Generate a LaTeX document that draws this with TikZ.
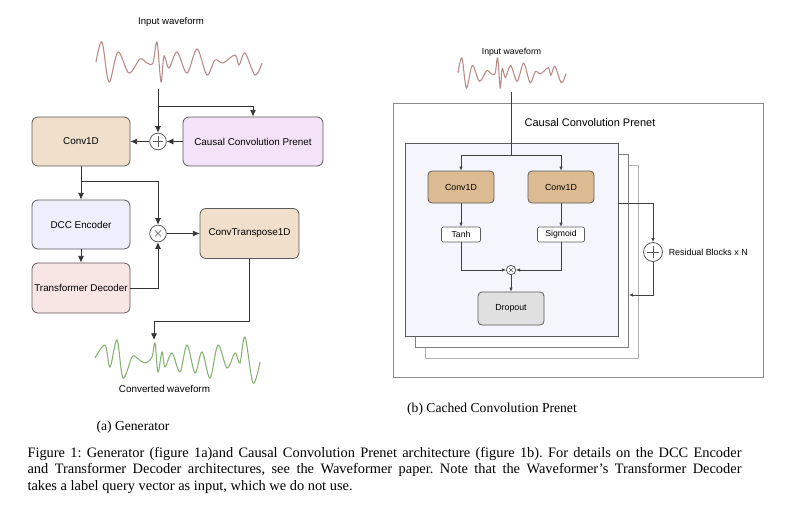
\documentclass[tikz,border=0pt]{standalone}
\usepackage{fontspec}
\setmainfont{Liberation Serif}
\setsansfont{Liberation Sans}
\usetikzlibrary{arrows.meta,positioning}

\definecolor{boxline}{HTML}{5A5A5A}
\definecolor{convtan}{HTML}{EFDFCB}
\definecolor{convdark}{HTML}{DDBB92}
\definecolor{causalpink}{HTML}{F4E3F8}
\definecolor{dccblue}{HTML}{EEEEFC}
\definecolor{transpink}{HTML}{F8E6E4}
\definecolor{dropgrey}{HTML}{E0E0E0}
\definecolor{stackfill}{HTML}{F5F5FD}
\definecolor{wavered}{HTML}{B88A86}
\definecolor{wavegreen}{HTML}{86B272}
\definecolor{outergrey}{HTML}{8C8C8C}

\tikzset{every picture/.style={line width=0.75pt}}
\tikzset{
  genbox/.style={draw=boxline, line width=0.6pt, rounded corners=4.5pt, minimum width=73.5pt, minimum height=36.75pt, inner sep=1pt, font=\sffamily\fontsize{7.4}{8.9}\selectfont},
  cbox/.style={draw=boxline, line width=0.6pt, rounded corners=3pt, fill=convdark, minimum width=49.5pt, minimum height=24pt, inner sep=1pt, font=\sffamily\fontsize{6.6}{8}\selectfont},
  tagbox/.style={draw=boxline, line width=0.5pt, rounded corners=1.5pt, fill=white, minimum height=11.25pt, inner sep=1pt, font=\sffamily\fontsize{6.5}{7.8}\selectfont},
  stackbox/.style={draw=#1, line width=0.6pt, minimum width=159.75pt, minimum height=144.75pt, inner sep=0pt},
  opcirc/.style={circle, draw=boxline, line width=0.6pt, fill=white, inner sep=0pt},
  plusmark/.style={path picture={\draw[line width=0.5pt, shift={(path picture bounding box.center)}] (-#1,0) -- (#1,0) (0,-#1) -- (0,#1);}},
  crossmark/.style={path picture={\draw[line width=0.5pt, shift={(path picture bounding box.center)}] (-#1,-#1) -- (#1,#1) (-#1,#1) -- (#1,-#1);}},
  arr/.style={draw=black!80, line width=0.6pt, -{Latex[length=5pt,width=4.5pt]}},
  arrs/.style={draw=black!75, line width=0.5pt, -{Latex[length=3pt,width=2.6pt]}},
  lbl/.style={font=\sffamily\fontsize{#1}{#1}\selectfont, inner sep=1pt},
  subcap/.style={font=\fontsize{10.2}{12}\selectfont, inner sep=0pt},
  captxt/.style={font=\fontsize{10.8}{12.4}\selectfont\frenchspacing, inner sep=0pt, anchor=base west},
}

\newcommand{\inwave}{%
  \draw[wavered, line width=0.8pt] plot[smooth, tension=0.55] coordinates {(96,62) (102,42) (109,82) (118,52) (129,73) (140,59) (147,63) (153,63) (157,42) (161,82) (164,56) (169,68) (177,52) (187,73) (197,49) (207,75) (215,60) (223,63) (235,55) (239,65) (245,53) (255,75) (262,63)};}

\begin{document}
\begin{tikzpicture}[x=0.75pt,y=0.75pt,yscale=-1,xscale=1]
	\useasboundingbox (0,0) rectangle (800,510);

	%%% (a) Generator
	%Shape: Wave [input]
	\inwave
	%Shape: Wave [converted]
	\draw[wavegreen, line width=0.8pt] plot[smooth, tension=0.55] coordinates {(95,358) (105,345) (110,367) (117,340) (123,378) (132,357) (137,358) (145,363) (152,357) (155,343) (158,372) (162,352) (165,367) (172,353) (180,372) (187,345) (195,373) (202,352) (210,378) (218,345) (227,368) (235,353) (240,363) (245,337) (253,383) (260,362)};

	% Text Node
	\node[lbl=7.2] (inlbl) at (171,22) {Input waveform};
	% Text Node
	\node[lbl=7.4] (outlbl) at (164.5,389) {Converted waveform};

	%Blocks
	\node[genbox, fill=convtan] (conv) at (81,141.5) {Conv1D};
	\node[genbox, fill=causalpink, minimum width=105pt] (causal) at (253,141.5) {Causal Convolution Prenet};
	\node[opcirc, minimum size=12.5pt, plusmark=4pt] (sumin) at (158,141.5) {};
	\node[genbox, fill=dccblue] (dcc) at (81,224.5) {DCC Encoder};
	\node[genbox, fill=transpink, minimum height=37.5pt] (trans) at (81,288) {Transformer Decoder};
	\node[opcirc, minimum size=12.5pt, crossmark=2.3pt] (mulgen) at (158,233.5) {};
	\node[genbox, fill=convtan, minimum width=74.25pt, minimum height=37.5pt] (convt) at (249.5,233.5) {ConvTranspose1D};

	\coordinate (inw) at (158,89);
	\coordinate (inbr) at (158,106);
	\coordinate (convbr) at (81,181);
	\coordinate (outbend) at (249.5,321);
	\coordinate (outw) at (154,340);

	%Connectors
	\draw[arr] (inw) -- (sumin.north);
	\draw[arr] (inbr) -| (causal.north);
	\draw[arr] (causal.west) -- (sumin.east);
	\draw[arr] (sumin.west) -- (conv.east);
	\draw[arr] (conv.south) -- (dcc.north);
	\draw[arr] (convbr) -| (mulgen.north);
	\draw[arr] (dcc.south) -- (trans.north);
	\draw[arr] (trans.east) -| (mulgen.south);
	\draw[arr] (mulgen.east) -- (convt.west);
	\draw[arr] (convt.south) -- (outbend) -| (outw);

	% Text Node
	\node[subcap] (capa) at (133,427) {(a) Generator};

	%%% (b) Cached Convolution Prenet
	%Shape: Rectangle [outer]
	\draw[outergrey, line width=0.6pt] (393,103) rectangle (763,377);
	%Shape: Wave [input]
	\begin{scope}[shift={(458,58)}, xscale=0.65, yscale=0.75, shift={(-96,-42)}]
		\inwave
	\end{scope}
	% Text Node
	\node[lbl=6.5] (rinlbl) at (511.5,52) {Input waveform};
	% Text Node
	\node[lbl=8.25] (prelbl) at (590,123) {Causal Convolution Prenet};

	%Stacked residual blocks
	\node[stackbox=black!30, fill=white] (blkC) at (532,261.5) {};
	\node[stackbox=black!50, fill=white] (blkB) at (522,250.5) {};
	\node[stackbox=boxline, fill=stackfill] (blkA) at (511.5,239.5) {};

	\node[cbox] (convA) at (461,187) {Conv1D};
	\node[cbox] (convB) at (561,187) {Conv1D};
	\node[tagbox, minimum width=29.25pt] (tanh) at (461,234.5) {Tanh};
	\node[tagbox, minimum width=35.25pt] (sigm) at (561,234.5) {Sigmoid};
	\node[opcirc, minimum size=7pt, crossmark=1.5pt] (mulR) at (511,270) {};
	\node[cbox, fill=dropgrey, minimum height=24.75pt] (drop) at (511,308.5) {Dropout};
	\node[opcirc, minimum size=14.25pt, plusmark=4.5pt] (addR) at (653,252) {};
	% Text Node
	\node[lbl=6.65, anchor=west] (reslbl) at (667,252) {Residual Blocks x N};

	\coordinate (rin) at (511,92);
	\coordinate (rbr) at (511,155);
	\coordinate (back) at (629,295);

	%Connectors
	\draw[draw=black!75, line width=0.5pt] (rin) -- (rbr);
	\draw[arrs] (rbr) -| (convA.north);
	\draw[arrs] (rbr) -| (convB.north);
	\draw[arrs] (convA.south) -- (tanh.north);
	\draw[arrs] (convB.south) -- (sigm.north);
	\draw[arrs] (tanh.south) |- (mulR.west);
	\draw[arrs] (sigm.south) |- (mulR.east);
	\draw[arrs] (mulR.south) -- (drop.north);
	\draw[arrs] (convB.south -| blkA.east) -| (addR.north);
	\draw[arrs] (addR.south) |- (back);

	% Text Node
	\node[subcap] (capb) at (492,409) {(b) Cached Convolution Prenet};

	%%% Caption
	\node[captxt] (capA) at (27,457) {\makebox[535.5pt][s]{Figure 1: Generator (figure 1a)and Causal Convolution Prenet architecture (figure 1b). For details on the DCC Encoder}};
	\node[captxt] (capB) at ([yshift=12.4pt]capA.base west) {\makebox[535.5pt][s]{and Transformer Decoder architectures, see the Waveformer paper. Note that the Waveformer’s Transformer Decoder}};
	\node[captxt] (capC) at ([yshift=12.4pt]capB.base west) {takes a label query vector as input, which we do not use.};

\end{tikzpicture}
\end{document}
